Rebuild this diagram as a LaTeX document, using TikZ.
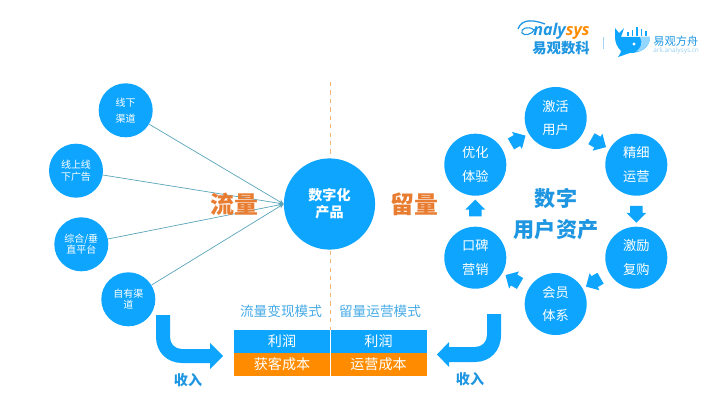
\documentclass[tikz,border=0pt]{standalone}
\usepackage{xcolor}
\usepackage{fontspec}
\setmainfont{Noto Sans CJK SC}
\newfontfamily\logofont{Open Sans}
\definecolor{circleblue}{RGB}{14, 165, 255}
\definecolor{costorange}{RGB}{255, 140, 0}
\definecolor{labelorange}{RGB}{232, 125, 50}
\definecolor{linkteal}{RGB}{90, 165, 185}
\definecolor{dashorange}{RGB}{240, 180, 120}
\definecolor{modeblue}{RGB}{70, 170, 230}
\definecolor{logoblue}{RGB}{30, 150, 225}
\usetikzlibrary{shapes.arrows, calc}

\begin{document}
\begin{tikzpicture}[
    x=0.025cm, y=-0.025cm,
    channel/.style={circle, fill=circleblue, text=white, minimum size=1.35cm, inner sep=0pt, align=center, font=\fontsize{7.1}{8.2}\selectfont},
    stage/.style={circle, fill=circleblue, text=white, minimum size=1.55cm, inner sep=0pt, align=center, font=\fontsize{9.4}{17}\selectfont},
    product/.style={circle, fill=circleblue, text=white, minimum size=2.28cm, inner sep=0pt, align=center, font=\fontsize{10}{12}\selectfont\bfseries},
    link/.style={-stealth, linkteal, line width=0.5pt},
    hop/.style={single arrow, fill=circleblue, minimum height=0.42cm, inner xsep=0pt, inner ysep=0.15cm, single arrow head extend=0.09cm},
    cell/.style={minimum width=2.41cm, minimum height=0.575cm, inner sep=0pt, text=white, font=\fontsize{10}{12}\selectfont},
    flowword/.style={labelorange, font=\fontsize{17}{20}\selectfont\bfseries},
    modeword/.style={modeblue, font=\fontsize{9.7}{12}\selectfont},
    income/.style={logoblue, font=\fontsize{10}{12}\selectfont\bfseries}
]
    \useasboundingbox (0, 0) rectangle (723, 400);

    \coordinate (dashtop) at (330, 82);
    \coordinate (dashend) at (330, 330);
    \draw[dashorange, dashed, line width=0.5pt] (dashtop) -- (dashend);

    \node[product] (prod) at (329.5, 204) {数字化\\产品};

    \node[channel, font=\fontsize{7.1}{11.4}\selectfont] (offline) at (125.7, 110.3) {线下\\渠道};
    \node[channel] (adv) at (76, 170.7) {线上线\\下广告};
    \node[channel] (platform) at (81.3, 244.3) {综合/垂\\直平台};
    \node[channel] (own) at (128.3, 299.3) {自有渠\\道};

    \draw[link] (offline) -- (prod.west);
    \draw[link] (adv) -- (prod.west);
    \draw[link] (platform) -- (prod.west);
    \draw[link] (own) -- (prod.west);

    \node[flowword] (flowl) at (234, 204) {流量};
    \node[flowword] (flowr) at (414, 204) {留量};

    \node[stage] (activate) at (555.7, 118) {激活\\用户};
    \node[stage] (refine) at (636.3, 164.7) {精细\\运营};
    \node[stage] (rebuy) at (636.3, 257.7) {激励\\复购};
    \node[stage] (member) at (555.7, 304) {会员\\体系};
    \node[stage] (praise) at (475.3, 257.7) {口碑\\营销};
    \node[stage] (improve) at (475.3, 164.7) {优化\\体验};

    \node[hop, rotate=-30] (hop1) at ($(activate)!0.5!(refine)$) {};
    \node[hop, rotate=-90] (hop2) at ($(refine)!0.5!(rebuy)$) {};
    \node[hop, rotate=-150] (hop3) at ($(rebuy)!0.5!(member)$) {};
    \node[hop, rotate=150] (hop4) at ($(member)!0.5!(praise)$) {};
    \node[hop, rotate=90] (hop5) at ($(praise)!0.5!(improve)$) {};
    \node[hop, rotate=30] (hop6) at ($(improve)!0.5!(activate)$) {};

    \node[logoblue, align=center, font=\fontsize{15}{22}\selectfont\bfseries] (asset) at (556, 214) {数字\\用户资产};

    \node[modeword] (model) at (281, 311) {流量变现模式};
    \node[modeword] (moder) at (380, 311) {留量运营模式};

    \node[cell, fill=circleblue] (profitl) at (282, 341.5) {利润};
    \node[cell, fill=circleblue] (profitr) at (378.5, 341.5) {利润};
    \node[cell, fill=costorange] (costl) at (282, 364.5) {获客成本};
    \node[cell, fill=costorange] (costr) at (378.5, 364.5) {运营成本};
    \draw[white, line width=0.5pt] (profitl.north east) -- (costl.south east);

    \fill[circleblue] (156, 315) -- (170, 315) -- (170, 337) .. controls (170, 344) and (175, 349) .. (182, 349) -- (210, 349) -- (210, 343) -- (223, 356) -- (210, 369) -- (210, 363) -- (182, 363) .. controls (167, 363) and (156, 352) .. (156, 337) -- cycle;
    \fill[circleblue] (501, 314) -- (487, 314) -- (487, 335) .. controls (487, 342) and (482, 347) .. (475, 347) -- (449, 347) -- (449, 342) -- (437, 354.5) -- (449, 367) -- (449, 362) -- (475, 362) .. controls (490, 362) and (501, 351) .. (501, 335) -- cycle;

    \node[income] (inl) at (188, 380) {收入};
    \node[income] (inr) at (470, 379) {收入};

    \draw[logoblue, line width=0.9pt] (518, 29) .. controls (522, 18) and (534, 20) .. (545, 24);
    \draw[logoblue, line width=0.8pt] (534, 30) .. controls (528, 25) and (520, 29) .. (522, 33) .. controls (524, 36) and (532, 35) .. (535, 29);
    \node[anchor=west, inner sep=0pt, logoblue, font=\logofont\fontsize{11.5}{12}\selectfont\bfseries\itshape] (brand) at (533, 31) {naly\textcolor{costorange}{sys}};
    \node[logoblue, font=\fontsize{10.2}{12}\selectfont\bfseries] (brandcn) at (561, 48) {易观数科};
    \coordinate (bartop) at (603, 37);
    \coordinate (barend) at (603, 49);
    \draw[logoblue!40, line width=0.5pt] (bartop) -- (barend);

    \fill[circleblue] (615, 28) -- (619, 33) -- (624, 28) -- (621, 37) -- (650, 37) .. controls (650, 48) and (640, 53) .. (630, 53) .. controls (626, 54) and (622, 56) .. (618, 57) .. controls (620, 54) and (621, 52) .. (621, 51) .. controls (617, 47) and (615, 42) .. (615, 37) -- cycle;
    \fill[circleblue!45] (640, 37) -- (650, 37) .. controls (650, 46) and (643, 51) .. (636, 52) .. controls (641, 48) and (643, 43) .. (640, 37) -- cycle;
    \fill[white] (634, 44) circle (1.6);
    \foreach \barx/\bary in {628/32, 632.5/30, 637/27, 641.5/29, 646/31}
        \draw[circleblue, line width=0.8pt] (\barx, \bary) -- (\barx, 36);

    \node[anchor=west, inner sep=0pt, logoblue, font=\fontsize{8}{10}\selectfont] (ark) at (653, 41) {易观方舟};
    \node[anchor=west, inner sep=0pt, logoblue!45, font=\logofont\fontsize{4.6}{6}\selectfont] (arkurl) at (653, 51) {ark.analysys.cn};
\end{tikzpicture}
\end{document}
